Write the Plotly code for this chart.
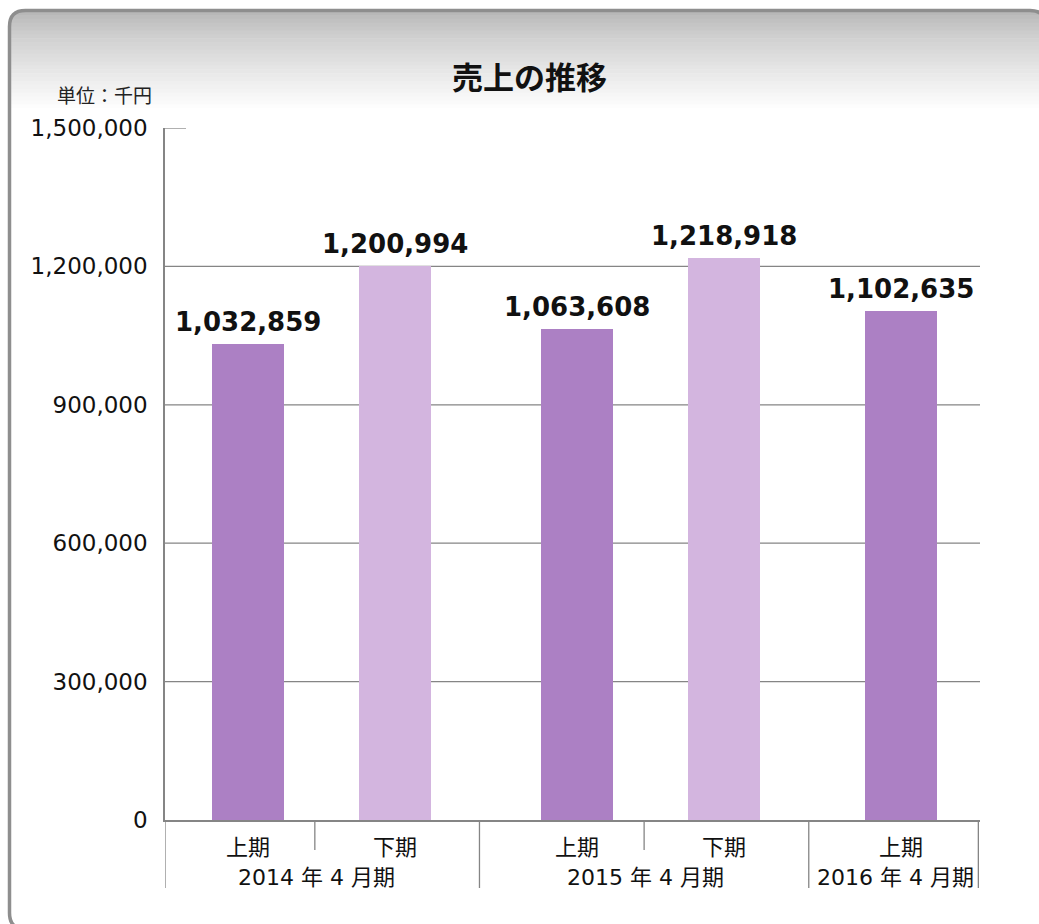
import plotly.graph_objects as go

# ---------------- data ----------------
years = ["2014 年 4 月期", "2014 年 4 月期", "2015 年 4 月期", "2015 年 4 月期", "2016 年 4 月期"]
halves = ["上期", "下期", "上期", "下期", "上期"]
sales = [1032859, 1200994, 1063608, 1218918, 1102635]
y_ticks = [0, 300000, 600000, 900000, 1200000, 1500000]
title_text = "売上の推移"
unit_text = "単位：千円"

# ---------------- layout constants ----------------
W, H = 1039, 924
ML, MR, MT, MB = 165, 59, 128, 104
PW, PH = W - ML - MR, H - MT - MB
GRID = "#858585"
COL = {"上期": "#ac80c4", "下期": "#d3b5df"}
NUM_FONT = "DejaVu Sans, Verdana, sans-serif"
JP_FONT = "DejaVu Sans, Noto Sans CJK JP, sans-serif"
PULL = 0.055         # bars of a pair drawn slightly toward each other
XR = [-0.45, len(sales) - 0.5]


def pxx(p):
    return (p - ML) / PW


def pxy(p):
    return (H - MB - p) / PH


# bar positions: category index with a small pull toward the group's partner
xpos = []
for i, h in enumerate(halves):
    same_next = i + 1 < len(years) and years[i + 1] == years[i]
    same_prev = i > 0 and years[i - 1] == years[i]
    if same_next:
        xpos.append(i + PULL)
    elif same_prev:
        xpos.append(i - PULL)
    else:
        xpos.append(float(i) + 0.02)

fig = go.Figure()
fig.add_trace(go.Bar(
    x=xpos, y=sales, width=0.437,
    marker=dict(color=[COL[h] for h in halves], line=dict(width=0)),
    hoverinfo="skip",
))

shapes = []
annotations = []

# ---- panel background: header gradient, corner masks, rounded border ----
x0p, y0p, x1p, y1p, r = 9.5, 10.5, 1046, 929, 16
n = 26
top, bot = 11, 112
for k in range(n):
    ya = top + (bot - top) * k / n
    yb = top + (bot - top) * (k + 1) / n + 0.6
    t = k / (n - 1)
    v = int(round(184 + 71 * (t ** 0.8)))
    c = f"rgb({v},{v},{v})"
    shapes.append(dict(type="rect", xref="paper", yref="paper", layer="below",
                       x0=pxx(x0p), x1=pxx(x1p), y0=pxy(ya), y1=pxy(yb),
                       fillcolor=c, line=dict(width=0)))


def P(x, y):
    return f"{pxx(x)},{pxy(y)}"


# corner masks (white outside rounded corners)
tl = (f"M{P(x0p-4, y0p-4)} L{P(x0p+r, y0p-4)} L{P(x0p+r, y0p)} "
      f"Q{P(x0p, y0p)} {P(x0p, y0p+r)} L{P(x0p-4, y0p+r)} Z")
tr = (f"M{P(x1p+4, y0p-4)} L{P(x1p-r, y0p-4)} L{P(x1p-r, y0p)} "
      f"Q{P(x1p, y0p)} {P(x1p, y0p+r)} L{P(x1p+4, y0p+r)} Z")
for pth in (tl, tr):
    shapes.append(dict(type="path", xref="paper", yref="paper", layer="below",
                       path=pth, fillcolor="white", line=dict(width=0)))

border = (f"M{P(x0p+r, y0p)} L{P(x1p-r, y0p)} Q{P(x1p, y0p)} {P(x1p, y0p+r)} "
          f"L{P(x1p, y1p-r)} Q{P(x1p, y1p)} {P(x1p-r, y1p)} "
          f"L{P(x0p+r, y1p)} Q{P(x0p, y1p)} {P(x0p, y1p-r)} "
          f"L{P(x0p, y0p+r)} Q{P(x0p, y0p)} {P(x0p+r, y0p)} Z")
shapes.append(dict(type="path", xref="paper", yref="paper", layer="below",
                   path=border, line=dict(color="#8e8e8e", width=3.5)))

# ---- gridlines ----
for v in y_ticks[1:-1]:
    shapes.append(dict(type="line", xref="paper", yref="y", layer="below",
                       x0=0, x1=pxx(980), y0=v, y1=v,
                       line=dict(color=GRID, width=1.3)))
shapes.append(dict(type="line", xref="paper", yref="y", layer="below",
                   x0=0, x1=pxx(186), y0=y_ticks[-1], y1=y_ticks[-1],
                   line=dict(color=GRID, width=1.3)))

# ---- category dividers ----
sub_depth = -30 / PH
grp_depth = -68 / PH
bounds = [XR[0]]
for i in range(len(years) - 1):
    bounds.append(i + 0.5 - 0.04)
bounds.append(XR[1] - 0.01)
for bi, b in enumerate(bounds):
    if bi == 0 or bi == len(bounds) - 1:
        depth = grp_depth
    else:
        left_y, right_y = years[bi - 1], years[bi]
        depth = grp_depth if left_y != right_y else sub_depth
    shapes.append(dict(type="line", xref="x", yref="paper",
                       x0=b, x1=b, y0=0, y1=depth,
                       line=dict(color=GRID, width=1.3)))

# ---- category labels ----
for xp, h in zip(xpos, halves):
    annotations.append(dict(x=xp, y=pxy(845), xref="x", yref="paper",
                            text=h, showarrow=False, yanchor="middle",
                            font=dict(family="Noto Sans CJK JP", size=22, color="#111")))
seen = []
for yl in years:
    if yl not in seen:
        seen.append(yl)
for yl in seen:
    idx = [i for i, v in enumerate(years) if v == yl]
    cx = sum(xpos[i] for i in idx) / len(idx)
    annotations.append(dict(x=cx, y=pxy(877), xref="x", yref="paper",
                            text=yl, showarrow=False, yanchor="middle", xshift=-5,
                            font=dict(family=JP_FONT, size=22, color="#111")))

# ---- value labels ----
for xp, v in zip(xpos, sales):
    annotations.append(dict(x=xp, y=v, xref="x", yref="y", yanchor="bottom",
                            yshift=5, text=f"<b>{v:,}</b>", showarrow=False,
                            font=dict(family=NUM_FONT, size=26, color="#111")))

# ---- title and unit ----
annotations.append(dict(x=pxx(529), y=pxy(75), xref="paper", yref="paper",
                        text=f"<b>{title_text}</b>", showarrow=False,
                        xanchor="center", yanchor="middle",
                        font=dict(family="Noto Sans CJK JP", size=31, color="#111")))
annotations.append(dict(x=pxx(104), y=pxy(94), xref="paper", yref="paper",
                        text=unit_text, showarrow=False,
                        xanchor="center", yanchor="middle",
                        font=dict(family="Noto Sans CJK JP", size=19, color="#222")))

fig.update_layout(
    width=W, height=H,
    margin=dict(l=ML, r=MR, t=MT, b=MB, pad=0),
    paper_bgcolor="white", plot_bgcolor="rgba(0,0,0,0)",
    showlegend=False, bargap=0,
    shapes=shapes, annotations=annotations,
    xaxis=dict(range=XR, showgrid=False, zeroline=False, showticklabels=False,
               showline=True, linecolor=GRID, linewidth=1.5, ticks="",
               fixedrange=True),
    yaxis=dict(range=[0, y_ticks[-1]], tickvals=y_ticks, tickformat=",d",
               showgrid=False, zeroline=False, showline=True, linecolor=GRID,
               linewidth=1.5, ticks="", ticklabelstandoff=11,
               tickfont=dict(family=NUM_FONT, size=23, color="#111"),
               fixedrange=True),
)

fig.write_html("out.html")
